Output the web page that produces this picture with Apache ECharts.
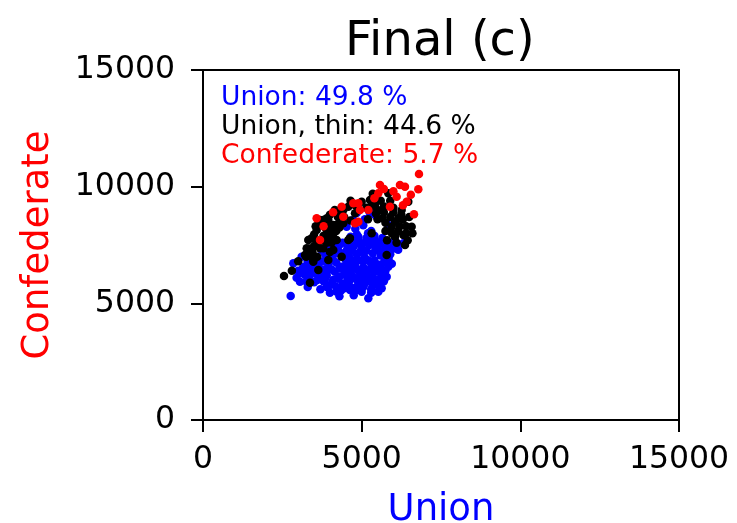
<!DOCTYPE html>
<html>
<head>
<meta charset="utf-8">
<script src="https://cdn.jsdelivr.net/npm/echarts@6/dist/echarts.min.js"></script>
<style>html,body{margin:0;padding:0;background:#fff}#c{width:737px;height:523px}</style>
</head>
<body>
<div id="c"></div>
<script>
// ---- data (Union soldiers x, Confederate soldiers y) ----
var titleText = "Final (c)";
var xName = "Union";
var yName = "Confederate";
var axisTicks = [0, 5000, 10000, 15000];
var legendLines = ["Union: 49.8 %", "Union, thin: 44.6 %", "Confederate: 5.7 %"];

var unionPts = [
 [2763,5314],[2846,6714],[3109,7000],[3161,6571],[3056,5929],[3372,6214],[3791,6429],[3739,7286],[4002,5786],[4212,5500],
 [4632,5571],[4527,8286],[4737,8571],[4160,7571],[4370,6571],[4737,6143],[4895,6857],[5420,8786],[5840,8357],[6103,7500],
 [5840,6571],[5788,6143],[5630,5643],[5525,5500],[5210,5214],[5105,5857],[4843,5714],[5420,7500],[5735,6857],[4895,7857],
 [6313,7571],[4843,8871],[3000,6400],[3250,5950],[2950,6100],[3700,5600],[4000,5450],[4300,5300],[4750,5350],[5000,5500],
 [5300,5450],[5500,5800],[5700,5950],
 [3500,5900],[3800,5950],[4100,6000],[4400,5850],[4600,5950],[4900,5900],[5200,6000],[5450,5950],[3300,5700],[4450,5650],
 [3200,6250],[3550,6300],[3900,6200],[4150,6350],[4450,6250],[4650,6400],[4950,6300],[5150,6250],[5400,6350],[5600,6300],
 [3400,6600],[3650,6700],[3950,6650],[4200,6750],[4550,6600],[4800,6700],[5050,6550],[5300,6700],[5550,6650],[5950,6700],
 [3600,6950],[3850,7100],[4050,7000],[4350,7150],[4600,7000],[4850,7100],[5100,6950],[5350,7150],[5600,7050],[5900,7100],
 [3950,7400],[4300,7500],[4550,7350],[4750,7450],[5000,7350],[5250,7500],[5500,7300],[5750,7400],[6000,7350],
 [4650,7850],[4900,7700],[5150,7800],[5400,7900],[5650,7800],
 [4800,8200],[5050,8350],[5300,8100],[5100,8600],[5250,8900],
 [4700,6550],[4500,6850],[5000,6150],[5250,6450],[4250,6050],[3700,6150],[4050,6450],[4800,5550],[5400,6850],[5150,7250],
 [4450,6450],[4650,6200],[4850,6450],[5050,6800],[5250,6050],[4400,7000],[4700,7250],[4950,7550],[5200,7650],[5450,7650],
 [5650,7200],[5800,7550],[4250,7300],[4550,7600],[3900,6900],[3650,6500],[3450,6400],[3100,6300],[3300,6800],[4200,5700],
 [4550,5800],[5350,5750],[5600,6500],[5850,6900],[6050,7700],
 [3900,5700],[4350,5550],[4650,5700],[5050,5700],[5300,5600],
 [3350,6050],[3600,6000],[3850,6050],[4300,6150],[4550,6100],[4800,6050],[5100,6100],[5350,6150],[5600,6100],
 [3300,6400],[3850,6450],[4300,6500],[4600,6500],[5000,6450],[5450,6500],[5750,6400],
 [3500,6750],[3800,6800],[4100,6850],[4700,6850],[5200,6850],[5700,6750],
 [3950,7200],[4200,7150],[4500,7200],[4950,7200],[5450,7350],[5800,7250],[6150,7300],
 [4400,7600],[4800,7600],[5100,7600],[5350,7700],[5600,7550],[5900,7500],
 [4850,7950],[5200,8000]
];

var unionThinPts = [
 [2552,6171],[3372,5886],[3267,7357],[3425,7786],[3582,8143],[3687,8571],[3949,8571],[4317,9000],[4579,9143],[4790,8857],
 [4106,8357],[3791,7357],[3476,6857],[3634,6429],[4106,7286],[4421,8429],[4212,7714],[4579,7714],[3949,6857],[4370,7000],
 [5840,9714],[6575,8286],[6260,9000],[6313,7929],[6365,7500],[5788,7071],[5420,9214],[5000,9357],[5315,8000],[5946,8286],
 [6050,7857],[6155,8643],[5262,9429],[4421,9000],[3791,8571],[3318,7714],[3214,7071],[6470,9357],
 [3900,8000],[4200,8100],[5200,8600],[5500,8600],[5700,8900],[6000,9100],[5600,9400],
 [4800,9200],[4000,8800],[3800,7900],[3550,7500],[3900,7600],[3600,7000],[3250,7000],
 [6400,8000],[6200,8300],[6500,8700],[6100,7600],[5800,7700],[4632,7786],[4002,7786],[3476,6786],[3687,7357],[5900,8700],
 [5500,9000],[5150,9100],[4650,8550],[4250,8700],[3850,8250],[4000,7200],
 [3000,6800],[2800,6400],[3450,7200],[3700,7700],[3550,8300],[4150,9000],[4650,9400],[5350,9700],[5900,9400],
 [6300,8600],[6600,8000],[6150,8100],[5750,8100],[3950,8300],[4250,8400],[6450,7700],[6000,8900],[5450,8850],
 [3500,7450],[4100,7850],[3350,7050],
 [3350,7350],[3600,7650],[3850,7750],[4050,8100],[4300,8250],[4450,8700],[3650,8350],[3500,7950],
 [4900,9050],[5300,9150],[5700,9150],[6050,8500],[6250,8800],[6400,8300],[5650,8650],[5950,8000],[3900,8650],
 [4050,7600],[3300,7200],[5750,8450]
];

var confedPts = [
 [6806,10543],[6785,9887],[6649,8814],[5577,10071],[6207,10071],[6365,9999],[6102,9571],[6418,9357],[4737,9287],[4370,9143],
 [3582,8643],[3687,7714],[4947,9000],[4895,8500],[5210,9000],[5892,9143],[5525,9714],[4421,8714],[4790,8429],[4895,9286],
 [5700,9900],[6000,9800],[6550,9650],[6300,9200],[3800,8300],[4100,8900],[5400,9500]
];

var font = "DejaVu Sans";
var chart = echarts.init(document.getElementById('c'), null, {renderer: 'canvas'});
function axisCommon(name, color, gap, isY) {
  return {
    type: 'value', min: 0, max: 15000, interval: 5000,
    name: name, nameLocation: 'middle', nameGap: gap,
    nameTextStyle: {color: color, fontFamily: font, fontSize: 37},
    axisLine: {show: true, lineStyle: {color: '#000', width: 2}},
    axisTick: {show: true, inside: false, length: 12, lineStyle: {color: '#000', width: 2}},
    axisLabel: {color: '#000', fontFamily: font, fontSize: 31.5, margin: isY ? 28 : 24,
      formatter: function (v) { return axisTicks.indexOf(v) >= 0 ? String(v) : ''; }},
    splitLine: {show: false}
  };
}
var xA = axisCommon(xName, '#0000ff', 72, false);
var yA = axisCommon(yName, '#ff0000', 146, true);
function ser(pts, color) {
  return {type: 'scatter', data: pts, symbolSize: 8.5, itemStyle: {color: color, opacity: 1},
          emphasis: {disabled: true}, animation: false};
}
chart.setOption({
  animation: false,
  backgroundColor: '#fff',
  grid: {left: 203, right: 58, top: 70, bottom: 103, show: true, borderColor: '#000', borderWidth: 2,
         containLabel: false, outerBoundsMode: 'none'},
  xAxis: xA,
  yAxis: yA,
  series: [ser(unionPts, '#0000ff'), ser(unionThinPts, '#000000'), ser(confedPts, '#ff0000')],
  graphic: [
    {type: 'text', left: 345, top: 19, style: {text: titleText, fontFamily: font, fontSize: 48, fill: '#000'}},
    {type: 'text', left: 221, top: 85, style: {text: legendLines[0], fontFamily: font, fontSize: 26.5, fill: '#0000ff'}},
    {type: 'text', left: 221, top: 114, style: {text: legendLines[1], fontFamily: font, fontSize: 26.5, fill: '#000000'}},
    {type: 'text', left: 221, top: 143, style: {text: legendLines[2], fontFamily: font, fontSize: 26.5, fill: '#ff0000'}}
  ]
});
</script>
</body>
</html>
